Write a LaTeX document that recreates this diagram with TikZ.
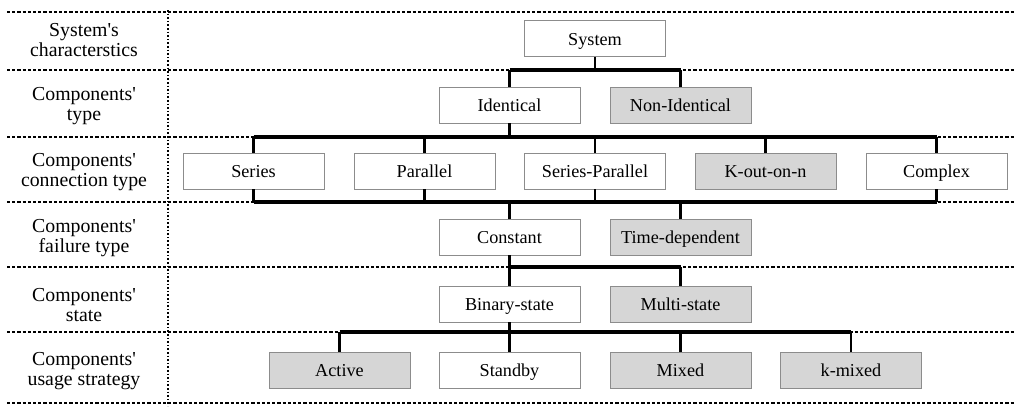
\documentclass[tikz,border=0pt]{standalone}
\usepackage{fontspec}
\setmainfont{Liberation Serif}
\begin{document}
\begin{tikzpicture}[
    x=0.5pt, y=-0.5pt,
    font=\fontsize{9.1}{10.6}\selectfont,
    box/.style={draw=black!45, line width=0.45pt, fill=white,
      minimum width=70.5pt, minimum height=18pt, inner sep=0pt,
      text height=7.8pt, text depth=1pt},
    greybox/.style={box, fill=black!16},
    sepline/.style={line width=0.9pt, dash pattern=on 1.6pt off 1pt},
    vsepline/.style={line width=0.9pt, dash pattern=on 0.8pt off 1pt},
    stem/.style={line width=1.1pt},
    bar/.style={line width=1.6pt, line cap=square},
    rowlabel/.style={align=center, font=\fontsize{9.9}{10.4}\selectfont}
  ]
  \useasboundingbox (0,0) rectangle (1019,408);

  % Separadores de filas
  \foreach \yy in {12,70,137,202,267,332,403}
    \draw[sepline] (7,\yy) -- (1015,\yy);
  \draw[vsepline] (168,10) -- (168,406);

  % Etiquetas de las filas
  \node[rowlabel] (lsys) at (84,40) {System\textquotesingle s\\characterstics};
  \node[rowlabel] (ltype) at (84,106) {Components\textquotesingle\\type};
  \node[rowlabel] (lconn) at (84,172) {Components\textquotesingle\\connection type};
  \node[rowlabel] (lfail) at (84,238) {Components\textquotesingle\\failure type};
  \node[rowlabel] (lstate) at (84,305) {Components\textquotesingle\\state};
  \node[rowlabel] (lusage) at (84,371) {Components\textquotesingle\\usage strategy};

  % Cajas
  \node[box] (sys) at (595,38.5) {System};
  \node[box] (ident) at (509.5,105) {Identical};
  \node[greybox] (nonid) at (680.5,105) {Non-Identical};
  \node[box] (ser) at (253.5,171) {Series};
  \node[box] (par) at (424.5,171) {Parallel};
  \node[box] (serpar) at (595,171) {Series-Parallel};
  \node[greybox] (kn) at (765.5,171) {K-out-on-n};
  \node[box] (cplx) at (936.5,171) {Complex};
  \node[box] (const) at (509.5,237) {Constant};
  \node[greybox] (timedep) at (680.5,237) {Time-dependent};
  \node[box] (bin) at (509.5,304) {Binary-state};
  \node[greybox] (multi) at (680.5,304) {Multi-state};
  \node[greybox] (act) at (339.5,370) {Active};
  \node[box] (stby) at (509.5,370) {Standby};
  \node[greybox] (mixed) at (680.5,370) {Mixed};
  \node[greybox] (kmix) at (851,370) {k-mixed};

  % Niveles de las barras
  \coordinate (b1) at (0,70);
  \coordinate (b2) at (0,137);
  \coordinate (b3) at (0,202);
  \coordinate (b4) at (0,267);
  \coordinate (b5) at (0,332);

  % System -> tipo
  \draw[stem] (sys.south) -- (sys.south |- b1);
  \foreach \n in {ident,nonid}
    \draw[stem] (\n.north) -- (\n.north |- b1);
  \draw[bar] (ident.north |- b1) -- (nonid.north |- b1);

  % Identical -> conexion
  \draw[stem] (ident.south) -- (ident.south |- b2);
  \foreach \n in {ser,par,serpar,kn,cplx}
    \draw[stem] (\n.north) -- (\n.north |- b2);
  \draw[bar] (ser.north |- b2) -- (cplx.north |- b2);

  % conexion -> fallo
  \foreach \n in {ser,par,serpar,cplx}
    \draw[stem] (\n.south) -- (\n.south |- b3);
  \foreach \n in {const,timedep}
    \draw[stem] (\n.north) -- (\n.north |- b3);
  \draw[bar] (ser.south |- b3) -- (cplx.south |- b3);

  % Constant -> estado
  \draw[stem] (const.south) -- (const.south |- b4);
  \foreach \n in {bin,multi}
    \draw[stem] (\n.north) -- (\n.north |- b4);
  \draw[bar] (bin.north |- b4) -- (multi.north |- b4);

  % Binary-state -> estrategia
  \draw[stem] (bin.south) -- (bin.south |- b5);
  \foreach \n in {act,stby,mixed,kmix}
    \draw[stem] (\n.north) -- (\n.north |- b5);
  \draw[bar] (act.north |- b5) -- (kmix.north |- b5);

\end{tikzpicture}
\end{document}
